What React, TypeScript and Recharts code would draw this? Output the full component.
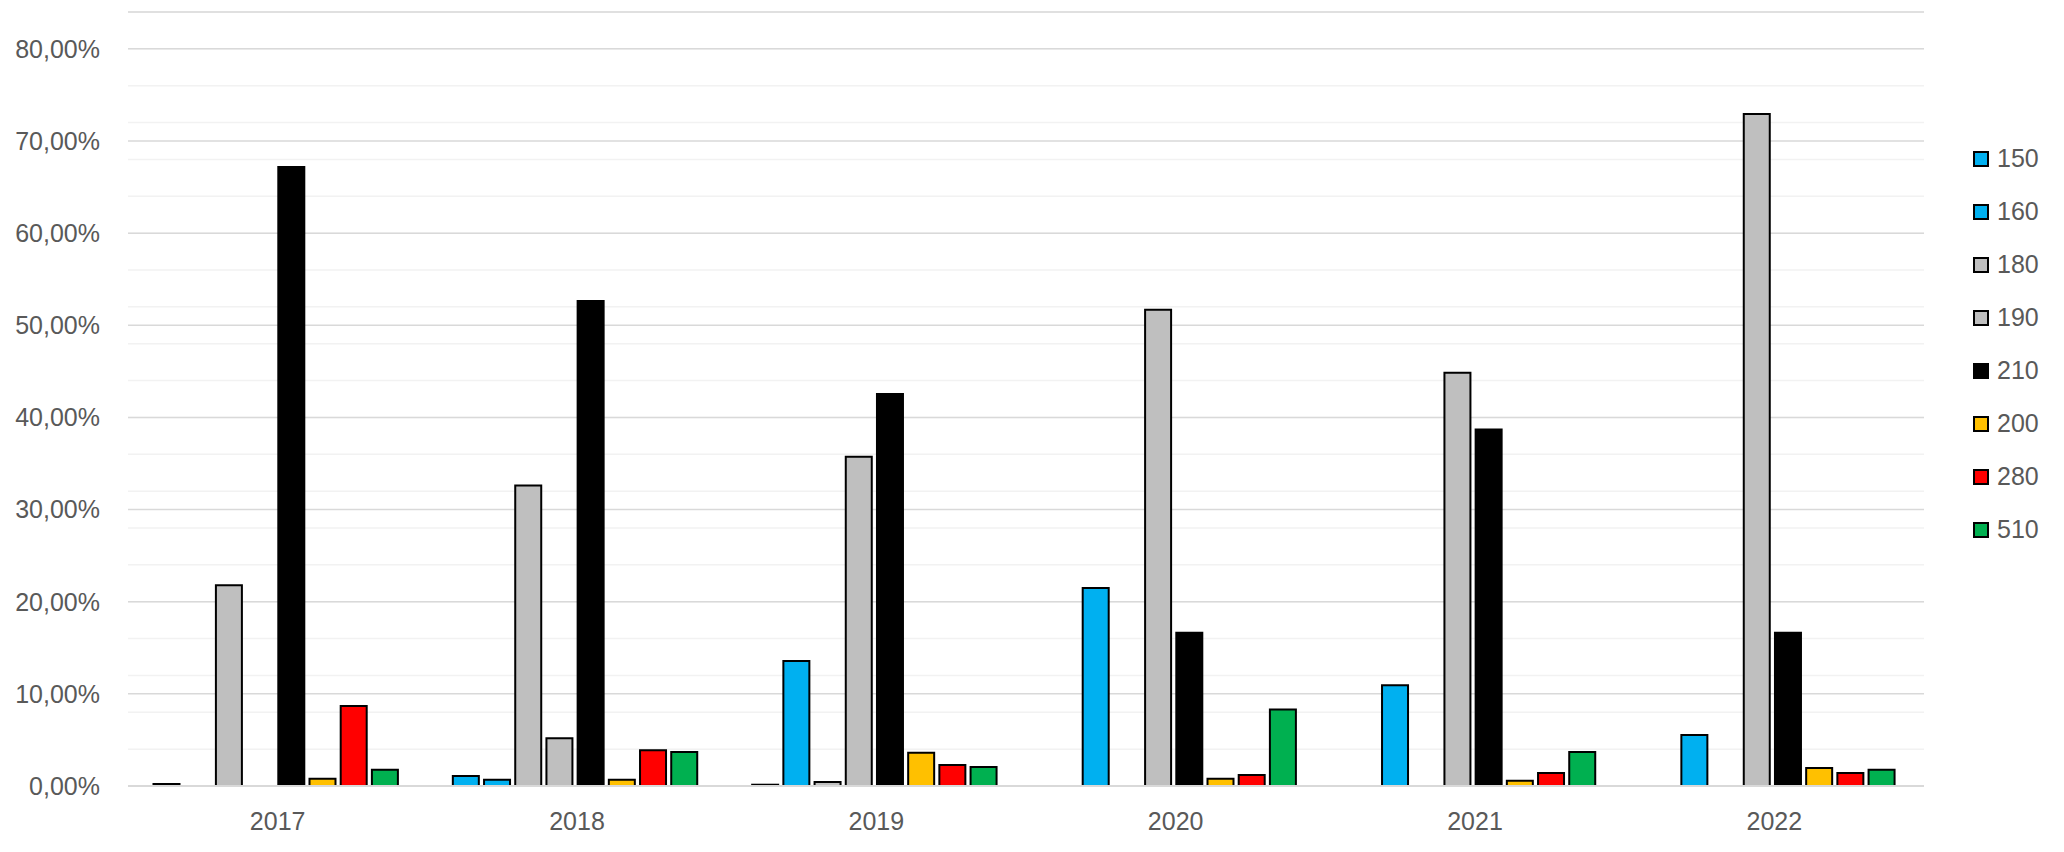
import React from 'react'
import {
  BarChart,
  Bar,
  XAxis,
  YAxis,
  CartesianGrid,
} from 'recharts'

const years = ['2017', '2018', '2019', '2020', '2021', '2022']

// values in percent, null = no bar
const s150 = [0.22, 1.08, 0.14, null, null, null]
const s160 = [null, 0.68, 13.57, 21.5, 10.93, 5.54]
const s180 = [21.79, 32.6, 0.43, null, null, null]
const s190 = [null, 5.18, 35.72, 51.68, 44.85, 72.93]
const s210 = [67.18, 52.64, 42.54, 16.64, 38.68, 16.64]
const s200 = [0.79, 0.68, 3.6, 0.79, 0.58, 1.94]
const s280 = [8.67, 3.88, 2.27, 1.19, 1.4, 1.4]
const s510 = [1.76, 3.7, 2.05, 8.31, 3.7, 1.76]

const majorTicks = [0, 10, 20, 30, 40, 50, 60, 70, 80]
const minorTicks = [
  0, 2, 4, 6, 8, 10, 12, 14, 16, 18, 20, 22, 24, 26, 28, 30, 32, 34, 36, 38, 40,
  42, 44, 46, 48, 50, 52, 54, 56, 58, 60, 62, 64, 66, 68, 70, 72, 74, 76, 78, 80,
  82, 84,
]

const series = [
  { key: 's150', name: '150', color: '#00B0F0', values: s150 },
  { key: 's160', name: '160', color: '#00B0F0', values: s160 },
  { key: 's180', name: '180', color: '#BFBFBF', values: s180 },
  { key: 's190', name: '190', color: '#BFBFBF', values: s190 },
  { key: 's210', name: '210', color: '#000000', values: s210 },
  { key: 's200', name: '200', color: '#FFC000', values: s200 },
  { key: 's280', name: '280', color: '#FF0000', values: s280 },
  { key: 's510', name: '510', color: '#00B050', values: s510 },
]

const data = years.map((year, i) => {
  const row: Record<string, any> = { year }
  series.forEach((s) => {
    row[s.key] = s.values[i]
  })
  return row
})

const FONT = '"Liberation Sans", Arial, sans-serif'
const TEXT = '#595959'

const formatPct = (v: number) => v.toFixed(2).replace('.', ',') + '%'

function LegendBox() {
  return (
    <div
      style={{
        position: 'absolute',
        left: 1965,
        top: 124,
        fontFamily: FONT,
        fontSize: 25,
        color: TEXT,
      }}
    >
      {series.map((s) => (
        <div
          key={s.key}
          style={{ display: 'flex', alignItems: 'center', height: 53 }}
        >
          <span
            style={{
              display: 'inline-block',
              width: 16,
              height: 16,
              boxSizing: 'border-box',
              border: '2px solid #000',
              background: s.color,
              marginRight: 8,
            }}
          />
          <span>{s.name}</span>
        </div>
      ))}
    </div>
  )
}

export default function App() {
  return (
    <div style={{ width: 2048, height: 836, position: 'relative' }}>
      <BarChart
        width={2048}
        height={836}
        data={data}
        margin={{ top: 4, right: 132, bottom: 8, left: 0 }}
        barCategoryGap={25.5}
        barGap={5.2}
      >
        <CartesianGrid
          yAxisId="minor"
          vertical={false}
          stroke="#F2F2F2"
          strokeWidth={1.5}
        />
        <CartesianGrid
          yAxisId="major"
          vertical={false}
          stroke="#D9D9D9"
          strokeWidth={1.5}
        />
        <XAxis
          dataKey="year"
          height={50}
          tickLine={false}
          tickSize={0}
          tickMargin={26}
          axisLine={{ stroke: '#D9D9D9', strokeWidth: 2 }}
          tick={{ fill: TEXT, fontSize: 25, fontFamily: FONT }}
        />
        <YAxis
          yAxisId="major"
          width={120}
          domain={[0, 84]}
          ticks={majorTicks}
          tickFormatter={formatPct}
          tickLine={false}
          tickSize={0}
          tickMargin={28}
          axisLine={false}
          allowDataOverflow
          tick={{ fill: TEXT, fontSize: 25, fontFamily: FONT }}
        />
        <YAxis
          yAxisId="minor"
          hide
          domain={[0, 84]}
          ticks={minorTicks}
          allowDataOverflow
        />
        {series.map((s) => (
          <Bar
            key={s.key}
            yAxisId="major"
            dataKey={s.key}
            name={s.name}
            fill={s.color}
            stroke="#000"
            strokeWidth={2}
            isAnimationActive={false}
          />
        ))}
      </BarChart>
      <LegendBox />
    </div>
  )
}
